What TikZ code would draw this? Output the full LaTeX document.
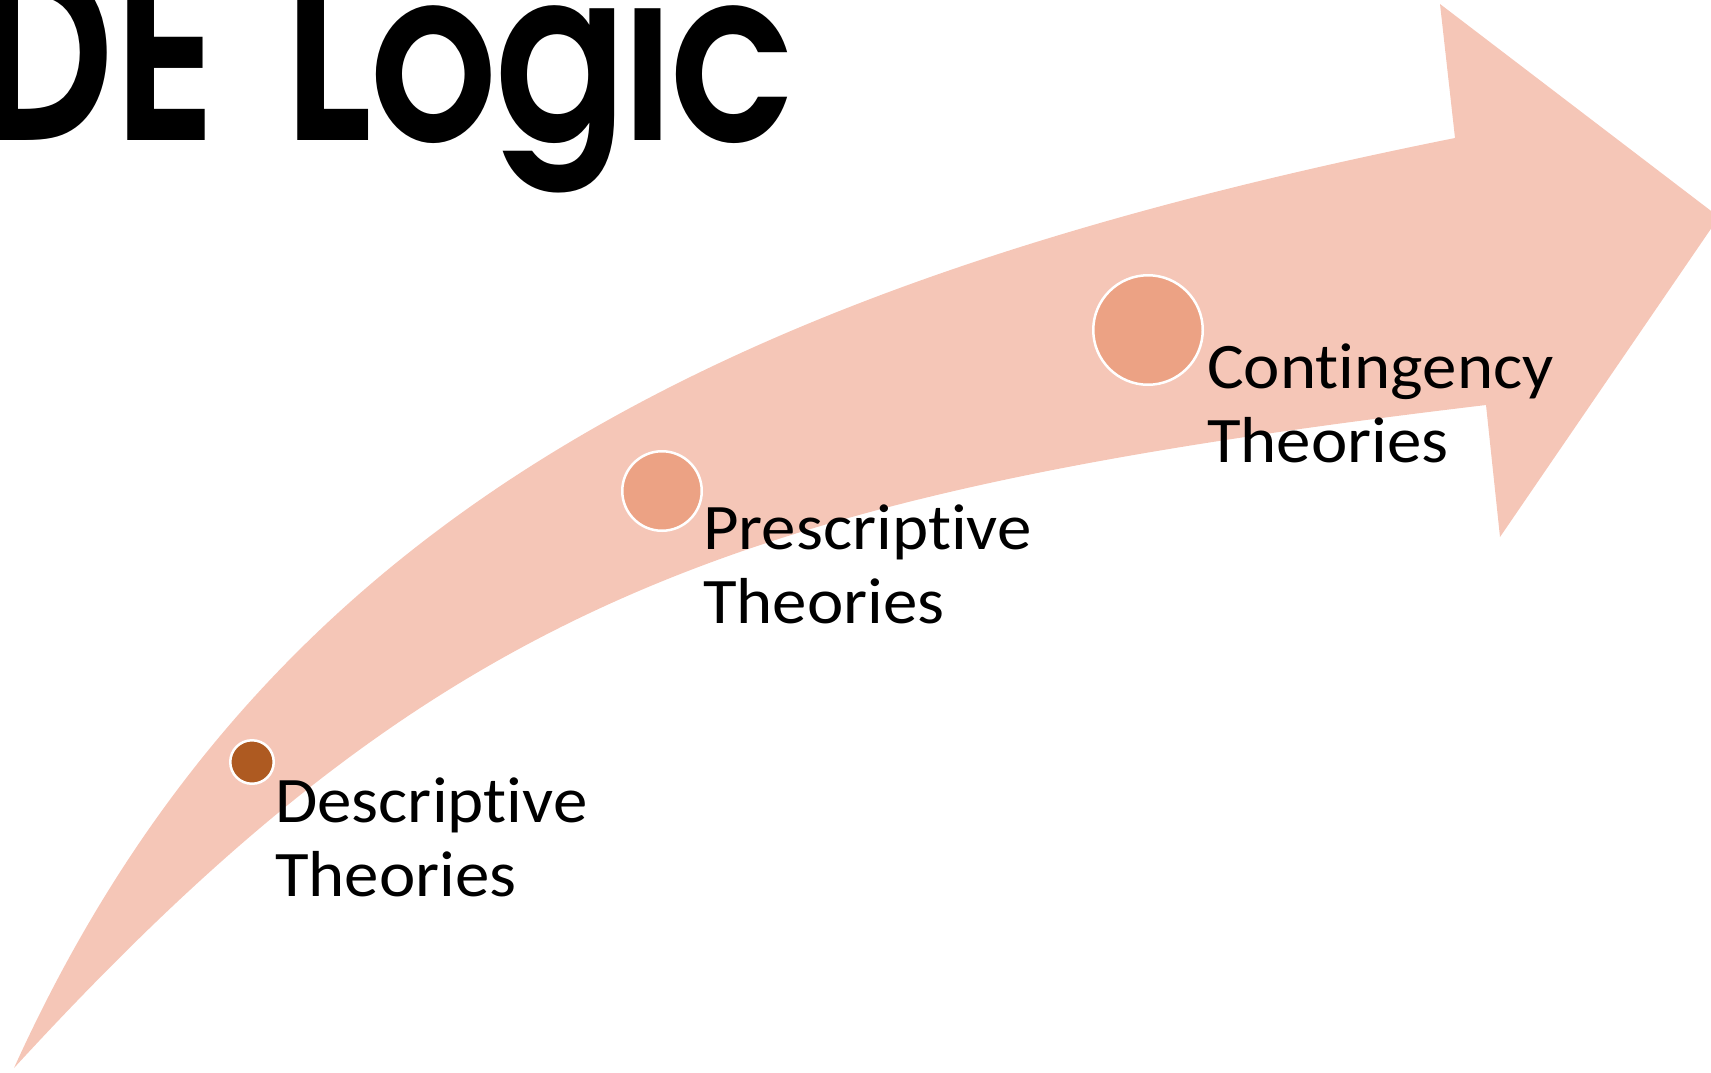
\documentclass[tikz,border=0pt]{standalone}
\usepackage{fontspec}
\setmainfont{Carlito}[Ligatures=NoCommon, FakeStretch=1.06]
\newfontfamily\titlefont{texgyreadventor-bold.otf}
\definecolor{bandcol}{HTML}{F5C6B7}
\definecolor{dotlight}{HTML}{ECA284}
\definecolor{dotdark}{HTML}{AE5A21}
\tikzset{
  band/.style={fill=bandcol},
  dotstyle/.style={circle, draw=white, line width=2.5pt, inner sep=0pt},
  lbl/.style={anchor=base west, inner sep=0pt, font=\fontsize{65}{74}\selectfont},
  titlestyle/.style={anchor=base east, inner sep=0pt, font=\titlefont\fontsize{195}{195}\selectfont}
}
\begin{document}
\begin{tikzpicture}[x=1pt, y=-1pt]
\useasboundingbox (0,0) rectangle (1711,1072);
\clip (0,0) rectangle (1711,1072);
% curved arrow band
\fill[band] (14,1068) .. controls (260,525) and (712,287) .. (1455,138)
  -- (1440,4) -- (1719,217) -- (1500,537) -- (1486,405)
  .. controls (731,495) and (440,604) .. (14,1068)
  -- cycle;
% title
\node[titlestyle] (title) at (796,140) {\scalebox{1}[1.22]{DE \hspace{14pt}Logic}};
% dots
\node[dotstyle, fill=dotdark, minimum size=43.5pt] (d) at (252,762) {};
\node[dotstyle, fill=dotlight, minimum size=79.5pt] (p) at (662,491) {};
\node[dotstyle, fill=dotlight, minimum size=109.5pt] (c) at (1148,330) {};
% labels
\node[lbl] (d1) at (275,822) {Descriptive};
\node[lbl] (d2) at (275,896) {Theories};
\node[lbl] (p1) at (703,549) {Prescriptive};
\node[lbl] (p2) at (703,623) {Theories};
\node[lbl] (c1) at (1207,388) {Contingency};
\node[lbl] (c2) at (1207,462) {Theories};
\end{tikzpicture}
\end{document}
